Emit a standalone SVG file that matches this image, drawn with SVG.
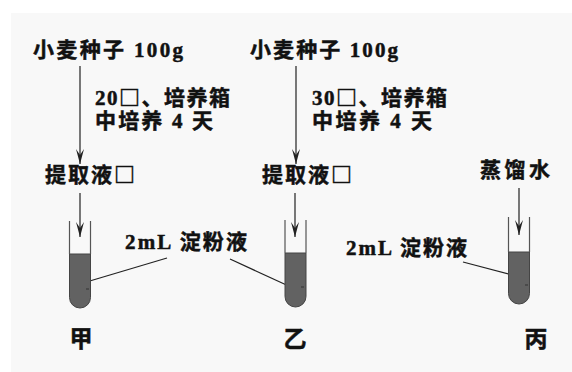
<svg xmlns="http://www.w3.org/2000/svg" width="572" height="372" viewBox="0 0 572 372">
  <style>
    .t { font-family: "Liberation Serif", "Noto Sans CJK SC", "Noto Sans CJK JP", serif; font-size: 21px; font-weight: bold; fill: #111; stroke: #111; stroke-width: 0.5; }
    .box { font-family: "Noto Sans CJK SC", "Noto Sans CJK JP", sans-serif; }
    .wide { letter-spacing: 1.5px; }
    .wider { letter-spacing: 2px; }
    .c { text-anchor: middle; font-size: 23px; }
    .arrow { stroke: #222; stroke-width: 1.2; fill: none; marker-end: url(#head); }
    .lead { stroke: #222; stroke-width: 1.2; fill: none; }
    .wall { stroke: #555; stroke-width: 1.2; fill: none; }
    .liquid { fill: #626262; stroke: #444; stroke-width: 1; }
    .tick { stroke: #333; stroke-width: 1; }
  </style>
  <defs>
    <!-- slim arrowhead with a notched back, pointing along +x -->
    <marker id="head" markerWidth="16" markerHeight="8" refX="15" refY="4" orient="auto" markerUnits="userSpaceOnUse" viewBox="0 0 16 8">
      <path d="M0,0 L15,4 L0,8 L6,4 Z" fill="#222"/>
    </marker>
  </defs>

  <rect x="0" y="0" width="572" height="372" fill="#ffffff"/>
  <rect x="11" y="13" width="561" height="359" fill="#f8f8f8"/>

  <!-- connectors: process arrows and leader lines -->
  <g id="connectors">
    <line class="arrow" x1="80" y1="66" x2="80" y2="164"/>
    <line class="arrow" x1="296" y1="66" x2="296" y2="164"/>
    <line class="arrow" x1="80" y1="193" x2="80" y2="237"/>
    <line class="arrow" x1="295" y1="193" x2="295" y2="237"/>
    <line class="arrow" x1="519" y1="188" x2="519" y2="235"/>
    <line class="lead" x1="167" y1="258" x2="83" y2="283"/>
    <line class="lead" x1="230" y1="259" x2="293" y2="288"/>
    <line class="lead" x1="463" y1="262" x2="520" y2="277"/>
  </g>

  <!-- column 甲 -->
  <g id="seeds-a">
    <text class="t" x="33" y="57" textLength="150">小麦种子 100g</text>
  </g>
  <g id="cond-a">
    <text class="t"><tspan class="wide" x="95" y="105">20<tspan class="box">□</tspan>、培养箱</tspan><tspan x="95" y="128" textLength="118">中培养 4 天</tspan></text>
  </g>
  <g id="extract-a">
    <text class="t wider" x="45" y="182">提取液<tspan class="box">□</tspan></text>
  </g>
  <g id="tube-a">
    <path class="liquid" d="M69.5,254 L90.5,254 L90.5,297.5 A10.5,10.5 0 0 1 69.5,297.5 Z"/>
    <line class="wall" x1="69.5" y1="221" x2="69.5" y2="254"/>
    <line class="wall" x1="90.5" y1="221" x2="90.5" y2="254"/>
    <line class="tick" x1="86" y1="289" x2="89" y2="289"/>
    <text class="t c" x="81" y="347">甲</text>
  </g>

  <!-- shared starch label for 甲 and 乙 -->
  <g id="starch-ab">
    <text class="t" x="125" y="249" textLength="122">2mL 淀粉液</text>
  </g>

  <!-- column 乙 -->
  <g id="seeds-b">
    <text class="t" x="250" y="57" textLength="148">小麦种子 100g</text>
  </g>
  <g id="cond-b">
    <text class="t"><tspan class="wide" x="312" y="105">30<tspan class="box">□</tspan>、培养箱</tspan><tspan x="312" y="128" textLength="120">中培养 4 天</tspan></text>
  </g>
  <g id="extract-b">
    <text class="t wider" x="262" y="182">提取液<tspan class="box">□</tspan></text>
  </g>
  <g id="tube-b">
    <path class="liquid" d="M285,253 L306,253 L306,296.5 A10.5,10.5 0 0 1 285,296.5 Z"/>
    <line class="wall" x1="285" y1="220" x2="285" y2="253"/>
    <line class="wall" x1="306" y1="220" x2="306" y2="253"/>
    <line class="tick" x1="301" y1="287" x2="304" y2="287"/>
    <text class="t c" x="295" y="347">乙</text>
  </g>

  <!-- column 丙 -->
  <g id="water-c">
    <text class="t" x="480" y="177" textLength="70">蒸馏水</text>
  </g>
  <g id="starch-c">
    <text class="t" x="346" y="255" textLength="121">2mL 淀粉液</text>
  </g>
  <g id="tube-c">
    <path class="liquid" d="M508.5,252 L529.5,252 L529.5,293.5 A10.5,10.5 0 0 1 508.5,293.5 Z"/>
    <line class="wall" x1="508.5" y1="217" x2="508.5" y2="252"/>
    <line class="wall" x1="529.5" y1="217" x2="529.5" y2="252"/>
    <line class="tick" x1="525" y1="285" x2="528" y2="285"/>
    <text class="t c" x="536" y="347">丙</text>
  </g>
</svg>
